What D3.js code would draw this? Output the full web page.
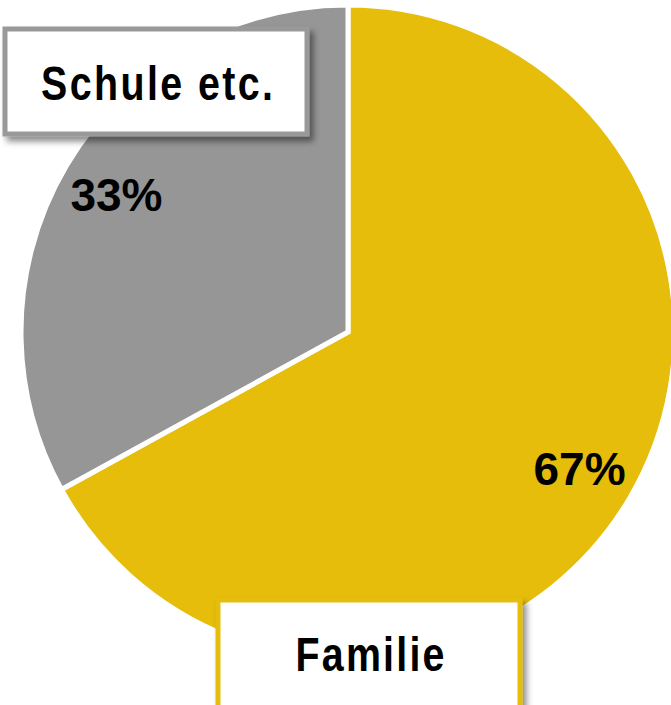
<!DOCTYPE html>
<html>
<head>
<meta charset="utf-8">
<script src="https://cdn.jsdelivr.net/npm/d3@7"></script>
<style>
  html, body { margin: 0; padding: 0; background: #fff; overflow: hidden; }
  svg { display: block; }
  .pct { font-family: "Liberation Sans", Arial, sans-serif; font-weight: bold; font-size: 46px; fill: #000; }
  .cat { font-family: "Liberation Sans Narrow", "Arial Narrow", "Liberation Sans", sans-serif; font-weight: bold; font-size: 48px; fill: #000; }
</style>
</head>
<body>
<div id="chart"></div>
<script>
// data
var categories = ["Familie", "Schule etc."];
var shares = [67, 33];
var pctLabels = ["67%", "33%"];
var colors = ["#E5BD0A", "#969696"];

var W = 671, H = 705;
var cx = 348, cy = 332, R = 327;

var svg = d3.select("#chart").append("svg")
    .attr("width", W)
    .attr("height", H);

var defs = svg.append("defs");
var f = defs.append("filter").attr("id", "shadow")
    .attr("x", "-10%").attr("y", "-10%").attr("width", "130%").attr("height", "140%");
f.append("feDropShadow")
    .attr("dx", 4).attr("dy", 5).attr("stdDeviation", 3)
    .attr("flood-color", "#000").attr("flood-opacity", 0.45);

var pie = d3.pie().sort(null).value(function(d) { return d; });
var arcs = pie(shares);

var arc = d3.arc().innerRadius(0).outerRadius(R);
var labelArc = d3.arc().innerRadius(269).outerRadius(269);

var g = svg.append("g").attr("transform", "translate(" + cx + "," + cy + ")");

g.selectAll("path.slice")
  .data(arcs)
  .enter().append("path")
  .attr("class", "slice")
  .attr("d", arc)
  .attr("fill", function(d, i) { return colors[i]; })
  .attr("stroke", "#fff")
  .attr("stroke-width", 5)
  .attr("stroke-linejoin", "miter");

// percent labels at slice centroids
g.selectAll("text.pct")
  .data(arcs)
  .enter().append("text")
  .attr("class", "pct")
  .attr("text-anchor", "middle")
  .attr("x", function(d) { return labelArc.centroid(d)[0]; })
  .attr("y", function(d) { return labelArc.centroid(d)[1] + 16; })
  .text(function(d, i) { return pctLabels[i]; });

// category boxes (label callouts)
var boxes = [
  {x: 218, y: 600, w: 302, h: 108, border: colors[0], base: 671, len: 149},
  {x: 5,   y: 29,  w: 302, h: 105, border: "#999999", base: 100, len: 232}
];

var bx = svg.selectAll("g.box")
  .data(categories)
  .enter().append("g")
  .attr("class", "box");

bx.append("rect")
  .attr("x", function(d, i) { return boxes[i].x; })
  .attr("y", function(d, i) { return boxes[i].y; })
  .attr("width", function(d, i) { return boxes[i].w; })
  .attr("height", function(d, i) { return boxes[i].h; })
  .attr("fill", "#fff")
  .attr("stroke", function(d, i) { return boxes[i].border; })
  .attr("stroke-width", 5)
  .attr("filter", "url(#shadow)");

// no narrow font installed: squeeze glyphs horizontally, then spread the letters
var sx = 0.82;
bx.append("text")
  .attr("class", "cat")
  .attr("text-anchor", "middle")
  .attr("transform", function(d, i) {
    return "translate(" + (boxes[i].x + boxes[i].w / 2 + 1) + "," + boxes[i].base + ") scale(" + sx + ",1)";
  })
  .attr("textLength", function(d, i) { return boxes[i].len / sx; })
  .attr("lengthAdjust", "spacing")
  .text(function(d) { return d; });
</script>
</body>
</html>
